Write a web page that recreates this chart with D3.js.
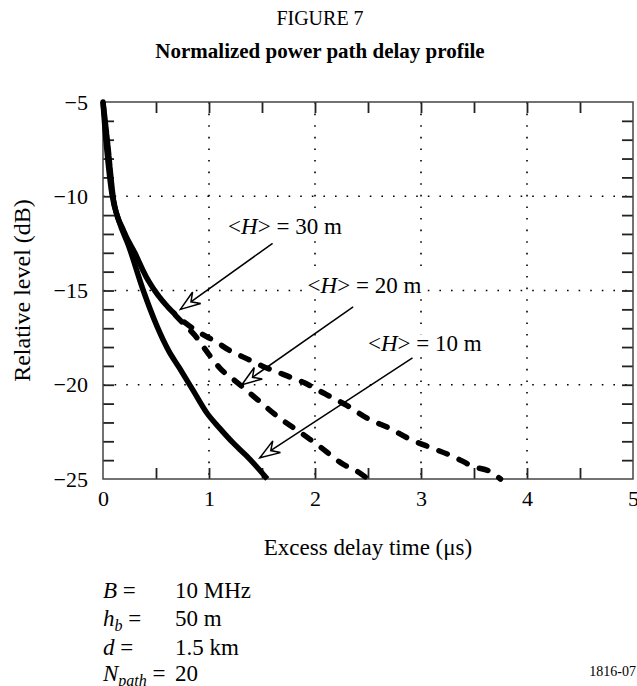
<!DOCTYPE html>
<html lang="en">
<head>
<meta charset="UTF-8">
<title>Figure 7</title>
<script src="https://cdn.jsdelivr.net/npm/d3@7/dist/d3.min.js"></script>
<style>
  body { margin: 0; background: #fff; }
  svg text { font-family: "Liberation Serif", "Times New Roman", serif; fill: #000; }
</style>
</head>
<body>
<div id="chart"></div>
<script>
// power delay profiles (x in us, y in dB)
const delayH10 = [0, 0.02, 0.05, 0.085, 0.15, 0.24, 0.38, 0.51, 0.62, 0.72, 0.85, 0.98, 1.1, 1.23, 1.35, 1.45, 1.55];
const levelH10 = [-5, -6.5, -8.3, -9.9, -11.3, -12.6, -15, -16.9, -18.2, -19.1, -20.3, -21.5, -22.3, -23.1, -23.75, -24.35, -25];

const delayH20 = [0, 0.04, 0.1, 0.2, 0.3, 0.41, 0.5, 0.6, 0.75, 0.87, 1.0, 1.1, 1.27, 1.46, 1.65, 1.88, 2.05, 2.26, 2.4, 2.5];
const levelH20 = [-5, -7, -10.2, -11.9, -13, -14.3, -15.1, -15.8, -16.7, -17.4, -18.4, -19.1, -19.9, -20.8, -21.7, -22.6, -23.3, -24.2, -24.6, -25];

const delayH30 = [0, 0.04, 0.1, 0.2, 0.3, 0.41, 0.5, 0.6, 0.75, 0.9, 1.06, 1.2, 1.35, 1.5, 1.7, 1.9, 2.1, 2.3, 2.5, 2.7, 2.9, 3.1, 3.3, 3.5, 3.65, 3.75];
const levelH30 = [-5, -7, -10.2, -11.9, -13, -14.3, -15.1, -15.8, -16.6, -17.2, -17.7, -18.2, -18.6, -19, -19.45, -19.9, -20.5, -21.1, -21.8, -22.3, -22.9, -23.35, -23.8, -24.35, -24.6, -25];

// annotations: label text, label anchor, arrow tail, arrow tip (data coords)
const labelText = ["30 m", "20 m", "10 m"];
const labelAt = [[1.18, -11.6], [1.93, -14.7], [2.5, -17.8]];
const arrowFrom = [[1.6, -12.5], [2.36, -15.87], [2.92, -18.57]];
const arrowTo = [[0.73, -16.0], [1.31, -20.0], [1.48, -23.87]];

const xTicks = [0, 0.5, 1, 1.5, 2, 2.5, 3, 3.5, 4, 4.5, 5];
const yTicks = d3.range(-25, -4, 1);
const xGrid = [1, 2, 3, 4];
const yGrid = [-10, -15, -20];

const paramNames = ["B", "h", "d", "N"];
const paramSubs = ["", "b", "", "path"];
const paramValues = ["10 MHz", "50 m", "1.5 km", "20"];

const width = 637, height = 686;
const margin = { top: 102, right: 4, bottom: 207, left: 103 };
const fs = 23;

const svg = d3.select('#chart').append('svg')
  .attr('width', width).attr('height', height);

const x = d3.scaleLinear().domain([0, 5]).range([margin.left, width - margin.right]);
const y = d3.scaleLinear().domain([-25, -5]).range([height - margin.bottom, margin.top]);

// titles
svg.append('text').attr('x', 320).attr('y', 25).attr('text-anchor', 'middle')
  .style('font-size', '20px').text('FIGURE 7');
svg.append('text').attr('x', 320).attr('y', 58).attr('text-anchor', 'middle')
  .style('font-size', '21px').style('font-weight', 'bold').text('Normalized power path delay profile');

// grid
const grid = svg.append('g').attr('stroke', '#000').attr('stroke-width', 1.6).attr('stroke-dasharray', '1.6,10');
grid.selectAll('.gx').data(xGrid).enter().append('line')
  .attr('x1', d => x(d)).attr('x2', d => x(d)).attr('y1', y(-5)).attr('y2', y(-25));
grid.selectAll('.gy').data(yGrid).enter().append('line')
  .attr('y1', d => y(d)).attr('y2', d => y(d)).attr('x1', x(0)).attr('x2', x(5));

// axes, ticks pointing inward
const fmt = d => (d < 0 ? '\u2212' : '') + Math.abs(d);
const axB = svg.append('g').attr('transform', `translate(0,${y(-25)})`)
  .call(d3.axisBottom(x).tickValues(xTicks).tickSize(-11).tickPadding(11)
    .tickFormat(d => Number.isInteger(d) ? d : ''));
const axT = svg.append('g').attr('transform', `translate(0,${y(-5)})`)
  .call(d3.axisTop(x).tickValues(xTicks).tickSize(-11).tickFormat(''));
const axL = svg.append('g').attr('transform', `translate(${x(0)},0)`)
  .call(d3.axisLeft(y).tickValues(yTicks).tickSize(-11).tickPadding(15)
    .tickFormat(d => d % 5 === 0 ? fmt(d) : ''));
const axR = svg.append('g').attr('transform', `translate(${x(5)},0)`)
  .call(d3.axisRight(y).tickValues(yTicks).tickSize(-11).tickFormat(''));

[axB, axT, axL, axR].forEach(g => {
  g.select('.domain').remove();
  g.selectAll('.tick line').attr('stroke', '#222').attr('stroke-width', 1.8);
  g.selectAll('.tick text').style('font-size', '22px');
});
axT.selectAll('.tick').filter(d => d === 0 || d === 5).remove();
axB.selectAll('.tick line').filter(d => d === 0 || d === 5).remove();
axL.selectAll('.tick line').filter(d => d === -5 || d === -25).remove();
axR.selectAll('.tick').filter(d => d === -5 || d === -25).remove();

svg.append('rect')
  .attr('x', x(0)).attr('y', y(-5))
  .attr('width', x(5) - x(0)).attr('height', y(-25) - y(-5))
  .attr('fill', 'none').attr('stroke', '#444').attr('stroke-width', 1.5);

// axis titles
svg.append('text').attr('x', (x(0) + x(5)) / 2).attr('y', 555).attr('text-anchor', 'middle')
  .style('font-size', fs + 'px').text('Excess delay time (\u03bcs)');
svg.append('text').attr('transform', `translate(30,${(y(-5) + y(-25)) / 2}) rotate(-90)`)
  .attr('text-anchor', 'middle').style('font-size', '24px').text('Relative level (dB)');

// curves
const line = d3.line().x(d => x(d[0])).y(d => y(d[1])).curve(d3.curveMonotoneX);
const plot = svg.append('g');
plot.append('path').datum(d3.zip(delayH30, levelH30)).attr('d', line)
  .attr('fill', 'none').attr('stroke', '#000').attr('stroke-width', 5.5)
  .attr('stroke-linecap', 'round').attr('stroke-dasharray', '9,13');
plot.append('path').datum(d3.zip(delayH20, levelH20)).attr('d', line)
  .attr('fill', 'none').attr('stroke', '#000').attr('stroke-width', 5.5)
  .attr('stroke-linecap', 'round').attr('stroke-dasharray', '9,13').attr('stroke-dashoffset', 11);
plot.append('path').datum(d3.zip(delayH10, levelH10)).attr('d', line)
  .attr('fill', 'none').attr('stroke', '#000').attr('stroke-width', 5.5);

// annotation labels with white background
labelText.forEach((t, i) => {
  const g = svg.append('g');
  const txt = g.append('text').attr('x', x(labelAt[i][0])).attr('y', y(labelAt[i][1]) + 8)
    .style('font-size', fs + 'px');
  txt.append('tspan').text('<');
  txt.append('tspan').style('font-style', 'italic').text('H');
  txt.append('tspan').text('> = ' + t);
  const b = txt.node().getBBox();
  g.insert('rect', 'text').attr('x', b.x - 2).attr('y', b.y + 3)
    .attr('width', b.width + 4).attr('height', b.height - 6).attr('fill', '#fff');
});

// arrows
svg.append('defs').append('marker')
  .attr('id', 'head').attr('viewBox', '-22 -8 24 16')
  .attr('refX', 0).attr('refY', 0)
  .attr('markerWidth', 24).attr('markerHeight', 16)
  .attr('markerUnits', 'userSpaceOnUse').attr('orient', 'auto')
  .append('path').attr('d', 'M0,0 L-20,-7 L-13,0 L-20,7 Z')
  .attr('fill', '#fff').attr('stroke', '#000').attr('stroke-width', 1.5)
  .attr('stroke-linejoin', 'miter');
arrowFrom.forEach((p, i) => {
  svg.append('line')
    .attr('x1', x(p[0])).attr('y1', y(p[1]))
    .attr('x2', x(arrowTo[i][0])).attr('y2', y(arrowTo[i][1]))
    .attr('stroke', '#000').attr('stroke-width', 1.5)
    .attr('marker-end', 'url(#head)');
});

// parameters
const rowY = [598, 626, 655, 681];
paramNames.forEach((n, i) => {
  const t = svg.append('text').attr('x', 103).attr('y', rowY[i]).style('font-size', fs + 'px');
  t.append('tspan').style('font-style', 'italic').text(n);
  if (paramSubs[i]) {
    t.append('tspan').attr('dy', 5).style('font-style', 'italic').style('font-size', '16px').text(paramSubs[i]);
    t.append('tspan').attr('dy', -5).text(' =');
  } else {
    t.append('tspan').text(' =');
  }
  svg.append('text').attr('x', 175).attr('y', rowY[i]).style('font-size', fs + 'px').text(paramValues[i]);
});

svg.append('text').attr('x', 636).attr('y', 676).attr('text-anchor', 'end')
  .style('font-size', '14px').text('1816-07');
</script>
</body>
</html>
